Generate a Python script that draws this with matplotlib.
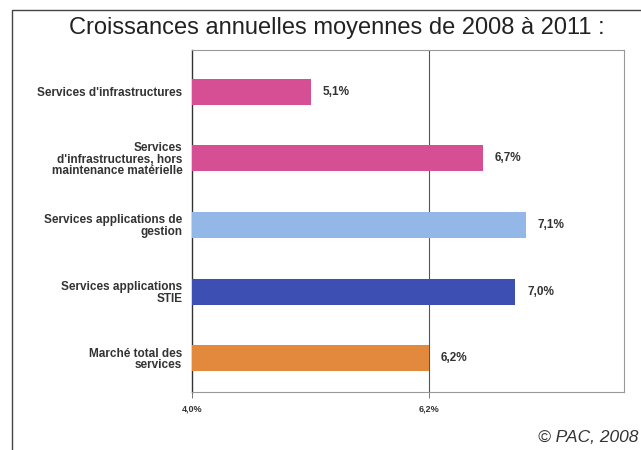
import matplotlib.pyplot as plt
from matplotlib.patches import Rectangle

# ---- Data ----
categories = [
    "Services d'infrastructures",
    "Services\nd'infrastructures, hors\nmaintenance matérielle",
    "Services applications de\ngestion",
    "Services applications\nSTIE",
    "Marché total des\nservices",
]
growth = [5.1, 6.7, 7.1, 7.0, 6.2]
value_labels = ["5,1%", "6,7%", "7,1%", "7,0%", "6,2%"]
tick_values = [4.0, 6.2]
tick_labels = ["4,0%", "6,2%"]
colors = ["#d64f95", "#d64f95", "#93b8e8", "#3d4fb3", "#e2893e"]

BASE = 4.0

plt.rcParams['font.family'] = ['Liberation Sans', 'DejaVu Sans']

fig = plt.figure(figsize=(6.41, 4.50), dpi=100)
fig.patch.set_facecolor('white')

# outer frame of the scanned figure
fig.patches.append(Rectangle((12 / 641, -0.05), 1.0, 1 - 10 / 450 + 0.05,
                             transform=fig.transFigure, fill=False,
                             edgecolor='#444444', lw=1.0))

ax = fig.add_axes([192 / 641, 1 - 392 / 450, 432 / 641, 342 / 450])

ypos = list(range(len(categories)))
ax.barh(ypos, [g - BASE for g in growth], left=BASE, height=0.39,
        color=colors, zorder=3)
for y, g, lab in zip(ypos, growth, value_labels):
    ax.text(g + 0.11, y, lab, va='center', ha='left', fontsize=8.5,
            fontweight='bold', color='#333333')

ax.axvline(6.2, color='#555555', lw=0.8, zorder=1)

ax.set_xlim(4.0, 8.01)
ax.set_ylim(4.51, -0.63)
ax.set_xticks(tick_values)
ax.set_xticklabels(tick_labels, fontsize=6.5, fontweight='bold', color='#333333')
ax.set_yticks(ypos)
ax.set_yticklabels(categories, fontsize=8.5, fontweight='bold', color='#333333',
                   linespacing=0.95)
ax.tick_params(axis='y', length=0, pad=7)
ax.tick_params(axis='x', length=4, width=0.7, color='#777777', pad=5)

ax.spines['left'].set_color('#333333')
ax.spines['left'].set_linewidth(1.0)
for s in ('top', 'bottom', 'right'):
    ax.spines[s].set_color('#999999')
    ax.spines[s].set_linewidth(0.8)

fig.text(337 / 641, 1 - 28 / 450, "Croissances annuelles moyennes de 2008 à 2011 :",
         ha='center', va='center', fontsize=17, color='#222222')
fig.text(638 / 641, 1 - 438 / 450, "© PAC, 2008", ha='right', va='center',
         fontsize=12.5, style='italic', color='#333333')

fig.savefig('out.png', dpi=100)
